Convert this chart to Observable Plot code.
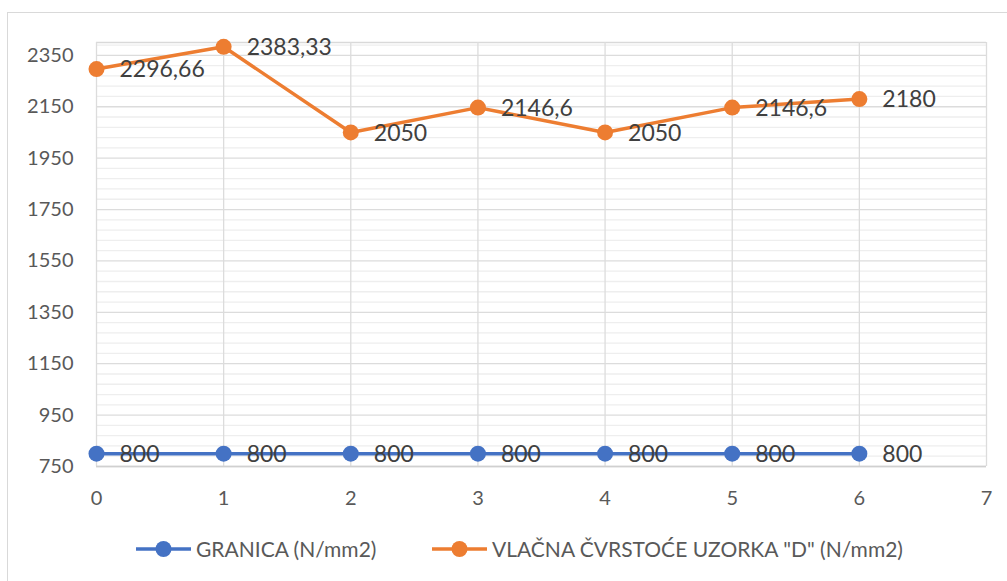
<!DOCTYPE html>
<html><head><meta charset="utf-8">
<script src="https://cdn.jsdelivr.net/npm/d3@7"></script>
<script src="https://cdn.jsdelivr.net/npm/@observablehq/plot@0.6"></script>
<style>
html,body{margin:0;padding:0;background:#fff;overflow:hidden;width:1007px;height:581px;}
#frame{position:absolute;left:7px;top:12px;width:1020px;height:600px;border:1.5px solid #d9d9d9;box-sizing:border-box;}
#chart{position:absolute;left:0;top:0;}
.leg{position:absolute;top:536px;display:flex;align-items:center;font-family:Lato,"Open Sans",sans-serif;font-size:21px;color:#595959;white-space:nowrap;}
.leg svg{margin-right:5px;}
</style></head>
<body>
<div id="frame"></div>
<div id="chart"></div>
<div id="legend"></div>
<script>
const xs = [0, 1, 2, 3, 4, 5, 6];
const granica = [800, 800, 800, 800, 800, 800, 800];
const vlacna = [2296.66, 2383.33, 2050, 2146.6, 2050, 2146.6, 2180];
const seriesNames = ["GRANICA (N/mm2)", "VLAČNA ČVRSTOĆE UZORKA \"D\" (N/mm2)"];
const colors = ["#4472C4", "#ED7D31"];
const yTicks = [750, 950, 1150, 1350, 1550, 1750, 1950, 2150, 2350];
const xTicks = [0, 1, 2, 3, 4, 5, 6, 7];

const fmt = v => String(v).replace(".", ",");
const data = [];
xs.forEach((x, i) => {
  data.push({x, y: granica[i], s: seriesNames[0]});
  data.push({x, y: vlacna[i], s: seriesNames[1]});
});
const minor = d3.range(790, 2400, 40).filter(v => !yTicks.includes(v));

const plot = Plot.plot({
  width: 1007,
  height: 520,
  marginLeft: 96,
  marginRight: 21,
  marginTop: 42,
  marginBottom: 54,
  style: {fontFamily: "Lato, 'Open Sans', sans-serif", background: "transparent"},
  x: {domain: [0, 7], label: null},
  y: {domain: [750, 2400], label: null},
  color: {domain: seriesNames, range: colors},
  marks: [
    Plot.ruleY(minor, {stroke: "#eeeeee", strokeWidth: 1.3}),
    Plot.ruleY(yTicks, {stroke: "#dcdcdc", strokeWidth: 1.3}),
    Plot.ruleY([2400], {stroke: "#d9d9d9", strokeWidth: 1.3}),
    Plot.ruleX(xTicks, {stroke: "#dcdcdc", strokeWidth: 1.3}),
    Plot.ruleY([750], {stroke: "#d0d0d0", strokeWidth: 1.5}),
    Plot.axisY({ticks: yTicks, tickSize: 0, tickPadding: 23, fontSize: 20, fill: "#595959", label: null, tickFormat: d => String(d)}),
    Plot.axisX({ticks: xTicks, tickSize: 0, tickPadding: 24, fontSize: 20, fill: "#595959", label: null, tickFormat: d => String(d)}),
    Plot.line(data, {x: "x", y: "y", z: "s", stroke: "s", strokeWidth: 3.5}),
    Plot.dot(data, {x: "x", y: "y", fill: "s", r: 8}),
    Plot.text(data, {x: "x", y: "y", text: d => fmt(d.y), textAnchor: "start", dx: 23, dy: 1, fontSize: 23, fill: "#404040"})
  ]
});
document.getElementById("chart").appendChild(plot);

const legendLefts = [136, 432];
const leg = document.getElementById("legend");
seriesNames.forEach((name, i) => {
  const div = document.createElement("div");
  div.className = "leg";
  div.style.left = legendLefts[i] + "px";
  div.innerHTML = `<svg width="55" height="24"><line x1="0" y1="12" x2="55" y2="12" stroke="${colors[i]}" stroke-width="3.5"/><circle cx="27.5" cy="12" r="8" fill="${colors[i]}"/></svg><span></span>`;
  div.querySelector("span").textContent = name;
  leg.appendChild(div);
});
</script>
</body></html>
